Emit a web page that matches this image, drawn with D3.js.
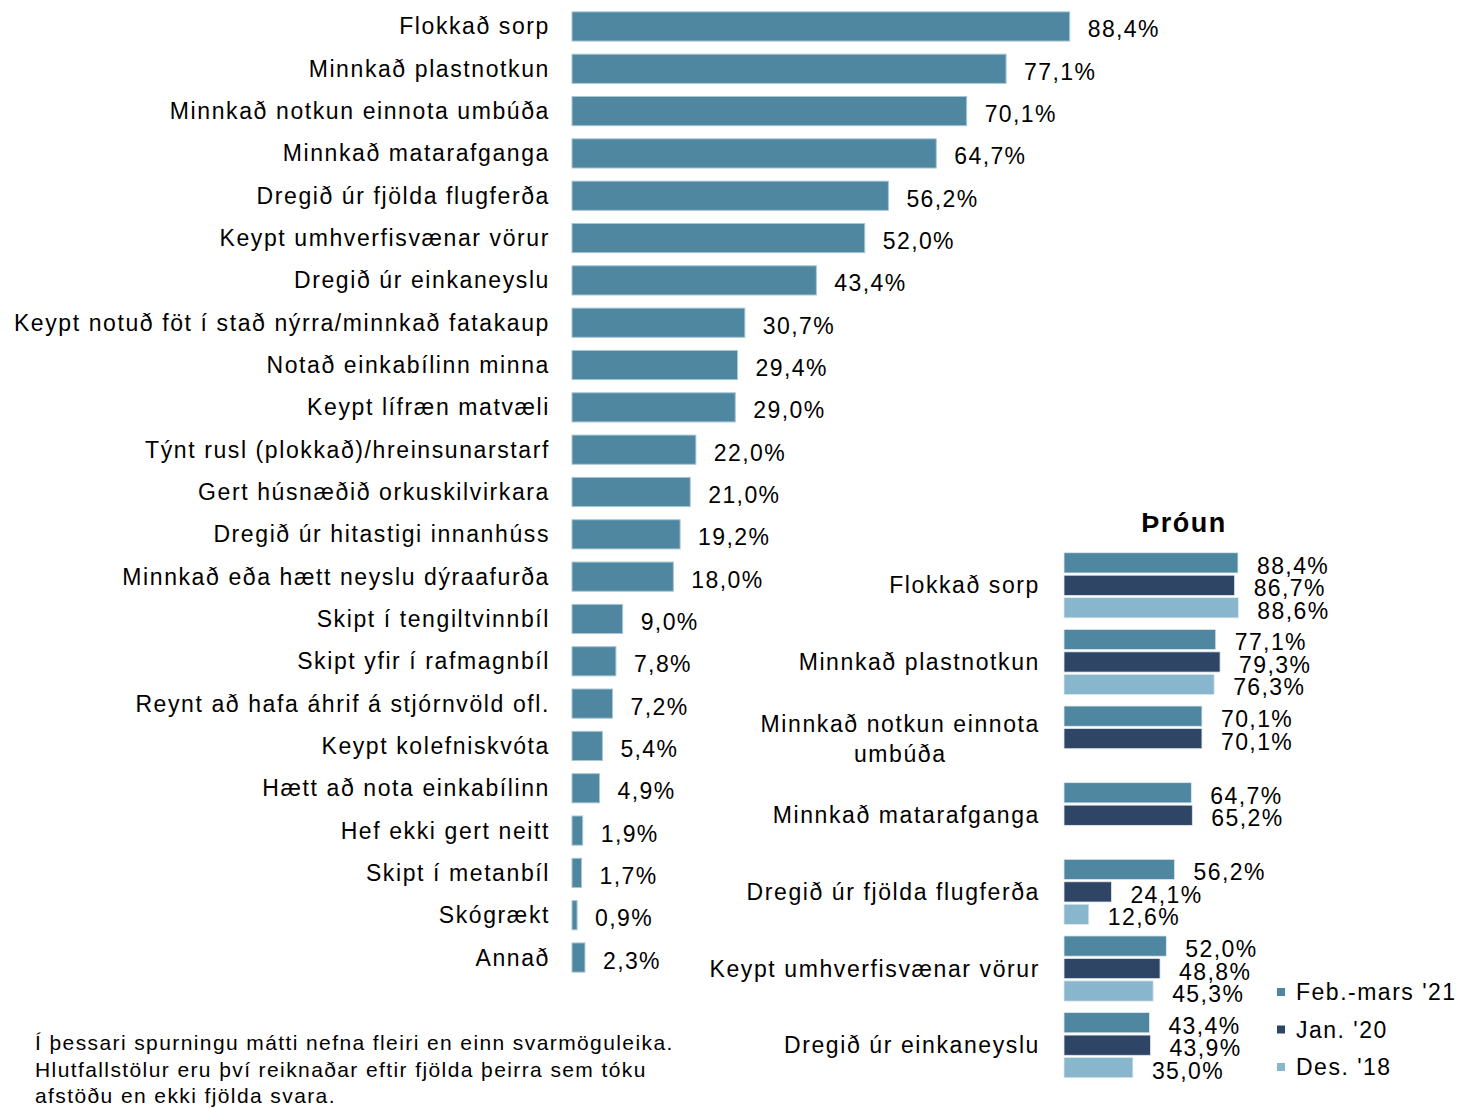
<!DOCTYPE html>
<html>
<head>
<meta charset="utf-8">
<script src="https://d3js.org/d3.v7.min.js"></script>
<style>
  body { margin: 0; background: #fff; }
  text { font-family: "Liberation Sans", Arial, sans-serif; fill: #000; }
</style>
</head>
<body>
<svg width="1459" height="1108"></svg>
<script>
// main chart: all actions, Feb.-mars '21
const categories = ["Flokkað sorp", "Minnkað plastnotkun", "Minnkað notkun einnota umbúða",
  "Minnkað matarafganga", "Dregið úr fjölda flugferða", "Keypt umhverfisvænar vörur",
  "Dregið úr einkaneyslu", "Keypt notuð föt í stað nýrra/minnkað fatakaup",
  "Notað einkabílinn minna", "Keypt lífræn matvæli", "Týnt rusl (plokkað)/hreinsunarstarf",
  "Gert húsnæðið orkuskilvirkara", "Dregið úr hitastigi innanhúss",
  "Minnkað eða hætt neyslu dýraafurða", "Skipt í tengiltvinnbíl", "Skipt yfir í rafmagnbíl",
  "Reynt að hafa áhrif á stjórnvöld ofl.", "Keypt kolefniskvóta", "Hætt að nota einkabílinn",
  "Hef ekki gert neitt", "Skipt í metanbíl", "Skógrækt", "Annað"];
const values = [88.4, 77.1, 70.1, 64.7, 56.2, 52.0, 43.4, 30.7, 29.4, 29.0, 22.0, 21.0,
  19.2, 18.0, 9.0, 7.8, 7.2, 5.4, 4.9, 1.9, 1.7, 0.9, 2.3];

// trend chart
const trendCats = [["Flokkað sorp"], ["Minnkað plastnotkun"], ["Minnkað notkun einnota", "umbúða"],
  ["Minnkað matarafganga"], ["Dregið úr fjölda flugferða"], ["Keypt umhverfisvænar vörur"],
  ["Dregið úr einkaneyslu"]];
const seriesNames = ["Feb.-mars '21", "Jan. '20", "Des. '18"];
const feb21 = [88.4, 77.1, 70.1, 64.7, 56.2, 52.0, 43.4];
const jan20 = [86.7, 79.3, 70.1, 65.2, 24.1, 48.8, 43.9];
const des18 = [88.6, 76.3, null, null, 12.6, 45.3, 35.0];
const seriesColors = ["#4f87a1", "#2f4566", "#87b6cd"];

const footnote = ["Í þessari spurningu mátti nefna fleiri en einn svarmöguleika.",
  "Hlutfallstölur eru því reiknaðar eftir fjölda þeirra sem tóku",
  "afstöðu en ekki fjölda svara."];

const fmt = v => d3.format(".1f")(v).replace(".", ",") + "%";
const svg = d3.select("svg");

// ---- main chart
const x = d3.scaleLinear().domain([0, 100]).range([572, 1135]);
const y = d3.scaleBand().domain(categories).range([5.3, 978.7])
  .paddingInner(0.31).paddingOuter(0.155);

const main = svg.append("g");
const rows = main.selectAll("g").data(categories).join("g");

rows.append("rect")
  .attr("x", x(0))
  .attr("y", d => y(d))
  .attr("width", (d, i) => x(values[i]) - x(0))
  .attr("height", y.bandwidth())
  .attr("fill", seriesColors[0])
  .attr("stroke", "#a9c6d4")
  .attr("stroke-width", 1);

rows.append("text")
  .attr("x", 550)
  .attr("y", d => y(d) + y.bandwidth() / 2 + 8)
  .attr("text-anchor", "end")
  .style("font-size", "23px")
  .style("letter-spacing", "1.6px")
  .text(d => d);

rows.append("text")
  .attr("x", (d, i) => x(values[i]) + 18)
  .attr("y", d => y(d) + y.bandwidth() / 2 + 11)
  .style("font-size", "23px")
  .style("letter-spacing", "1.4px")
  .text((d, i) => fmt(values[i]));

// ---- trend chart
const trendSeries = [feb21, jan20, des18];
const x2 = d3.scaleLinear().domain([0, 100]).range([1064, 1260.8]);
const g2 = d3.scaleBand().domain(d3.range(trendCats.length)).range([547, 1083.5])
  .paddingInner(0.15).paddingOuter(0.075);
const s2 = d3.scaleBand().domain(d3.range(3)).range([0, g2.bandwidth()]).paddingInner(0.1);

svg.append("text")
  .attr("x", 1184)
  .attr("y", 532)
  .attr("text-anchor", "middle")
  .style("font-size", "27px")
  .style("font-weight", "bold")
  .style("letter-spacing", "1.5px")
  .text("Þróun");

const groups = svg.append("g").selectAll("g").data(trendCats).join("g")
  .attr("transform", (d, i) => `translate(0,${g2(i)})`);

groups.each(function (lines, gi) {
  const g = d3.select(this);
  const cy = g2.bandwidth() / 2;
  trendSeries.forEach((ser, si) => {
    const v = ser[gi];
    if (v == null) return;
    g.append("rect")
      .attr("x", x2(0))
      .attr("y", s2(si))
      .attr("width", x2(v) - x2(0))
      .attr("height", s2.bandwidth())
      .attr("fill", seriesColors[si])
      .attr("stroke", "#dfe8ee")
      .attr("stroke-width", 0.8);
    g.append("text")
      .attr("x", x2(v) + 19)
      .attr("y", s2(si) + s2.bandwidth() / 2 + 11)
      .style("font-size", "23px")
      .style("letter-spacing", "1.4px")
      .text(fmt(v));
  });
  if (lines.length === 1) {
    g.append("text")
      .attr("x", 1040)
      .attr("y", cy + 8)
      .attr("text-anchor", "end")
      .style("font-size", "23px")
      .style("letter-spacing", "1.6px")
      .text(lines[0]);
  } else {
    const t1 = g.append("text")
      .attr("x", 1040)
      .attr("y", cy - 15 + 8)
      .attr("text-anchor", "end")
      .style("font-size", "23px")
      .style("letter-spacing", "1.6px")
      .text(lines[0]);
    const w = t1.node().getComputedTextLength();
    g.append("text")
      .attr("x", 1040 - w / 2)
      .attr("y", cy + 15 + 8)
      .attr("text-anchor", "middle")
      .style("font-size", "23px")
      .style("letter-spacing", "1.6px")
      .text(lines[1]);
  }
});

// legend
const legend = svg.append("g").selectAll("g").data(seriesNames).join("g")
  .attr("transform", (d, i) => `translate(1277,${992 + i * 37.5})`);
legend.append("rect")
  .attr("x", 0).attr("y", -4).attr("width", 8).attr("height", 8)
  .attr("fill", (d, i) => seriesColors[i]);
legend.append("text")
  .attr("x", 19).attr("y", 8)
  .style("font-size", "23px")
  .style("letter-spacing", "1.5px")
  .text(d => d);

// footnote
svg.append("g").selectAll("text").data(footnote).join("text")
  .attr("x", 35)
  .attr("y", (d, i) => 1050 + i * 26.5)
  .style("font-size", "21px")
  .style("letter-spacing", "1.4px")
  .text(d => d);
</script>
</body>
</html>
